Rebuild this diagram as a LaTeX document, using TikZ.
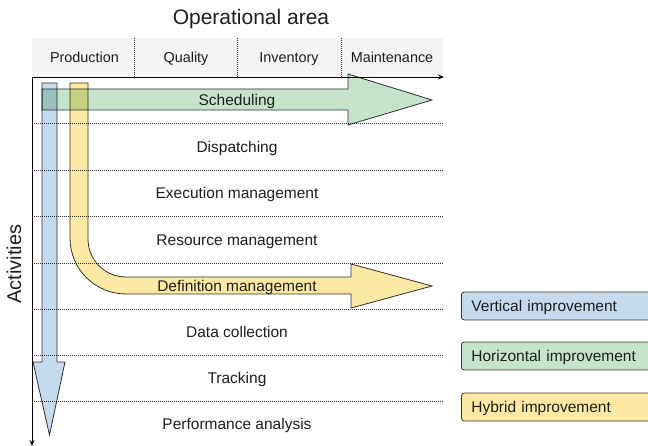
\documentclass[tikz,border=0pt]{standalone}
\usepackage{fontspec}
\setmainfont{Liberation Sans}
\usetikzlibrary{arrows.meta}

\definecolor{headgray}{RGB}{245,243,243}
\definecolor{vertblue}{RGB}{198,218,238}
\definecolor{horgreen}{RGB}{198,228,204}
\definecolor{hybyellow}{RGB}{254,233,164}
\definecolor{edgegray}{RGB}{50,50,50}
\definecolor{textgray}{RGB}{30,30,30}

\tikzset{
  rowline/.style={edgegray, line width=0.7pt, dash pattern=on 1pt off 1pt},
  bigarrow/.style={draw=edgegray, line width=0.8pt, line join=miter},
  rowlabel/.style={text=textgray, font=\fontsize{15.5}{18}\selectfont,
    text height=11pt, text depth=0pt},
  headlabel/.style={text=textgray, font=\fontsize{14.4}{17}\selectfont,
    text height=10.3pt, text depth=0pt},
  legendbox/.style={draw=edgegray, line width=0.8pt, rounded corners=3pt,
    anchor=west, minimum height=28pt, text width=185pt, inner xsep=10pt,
    align=left, text=textgray, font=\fontsize{15.5}{18}\selectfont,
    text height=11pt, text depth=0pt}
}

\begin{document}
\begin{tikzpicture}[x=1pt,y=-1pt]
\clip (0,0) rectangle (648,446);

% title and operational areas
\node [text=textgray, font=\fontsize{21}{24}\selectfont, text height=15pt, text depth=0pt] (title) at (251,17) {Operational area};
\fill [headgray] (32,38) rectangle (443,77);
\draw [rowline] (134,38)--(134,77);
\draw [rowline] (237,38)--(237,77);
\draw [rowline] (341,38)--(341,77);
\node [headlabel] (production) at (84.5,57) {Production};
\node [headlabel] (quality) at (186,57) {Quality};
\node [headlabel] (inventory) at (289,57) {Inventory};
\node [headlabel] (maintenance) at (392,57) {Maintenance};

% activity rows
\draw [rowline] (32,123)--(443,123);
\draw [rowline] (32,170)--(443,170);
\draw [rowline] (32,216)--(443,216);
\draw [rowline] (32,263)--(443,263);
\draw [rowline] (32,309)--(443,309);
\draw [rowline] (32,355)--(443,355);
\draw [rowline] (32,401)--(443,401);

% axes
\draw [-{Stealth[length=6pt,width=5pt]}, line width=0.8pt] (32,77)--(444,77);
\draw [-{Stealth[length=6pt,width=5pt]}, line width=0.8pt] (32,77)--(32,446);
\node [rotate=90, text=textgray, font=\fontsize{20}{24}\selectfont, text height=14.3pt, text depth=0pt] (activities) at (14,264) {Activities};

% improvement arrows
\begin{scope}[blend mode=multiply]
  % vertical
  \draw [bigarrow, fill=vertblue] (42,83)--(42,362)--(33,362)--(49.5,435)--(65,362)--(57,362)--(57,83)--cycle;
  % hybrid
  \draw [bigarrow, fill=hybyellow] (70,83)--(70,238) .. controls (70,269) and (95,294) .. (126,294)
     --(351,294)--(351,308)--(432,286)--(351,264)--(351,277)--(126,277)
     .. controls (105,277) and (88,260) .. (88,239)--(88,83)--cycle;
  % horizontal
  \draw [bigarrow, fill=horgreen] (42,89)--(348,89)--(348,74)--(432,100)--(348,125)--(348,110)--(42,110)--cycle;
\end{scope}

\node [rowlabel] (scheduling) at (237,100) {Scheduling};
\node [rowlabel] (dispatching) at (237,147) {Dispatching};
\node [rowlabel] (execution) at (237,193) {Execution management};
\node [rowlabel] (resource) at (237,240) {Resource management};
\node [rowlabel] (definition) at (237,286) {Definition management};
\node [rowlabel] (datacoll) at (237,332) {Data collection};
\node [rowlabel] (tracking) at (237,378) {Tracking};
\node [rowlabel] (performance) at (237,424) {Performance analysis};

% legend
\node [legendbox, fill=vertblue] (vertical) at (461,306) {Vertical improvement};
\node [legendbox, fill=horgreen] (horizontal) at (461,356) {Horizontal improvement};
\node [legendbox, fill=hybyellow] (hybrid) at (461,407) {Hybrid improvement};

\end{tikzpicture}
\end{document}
